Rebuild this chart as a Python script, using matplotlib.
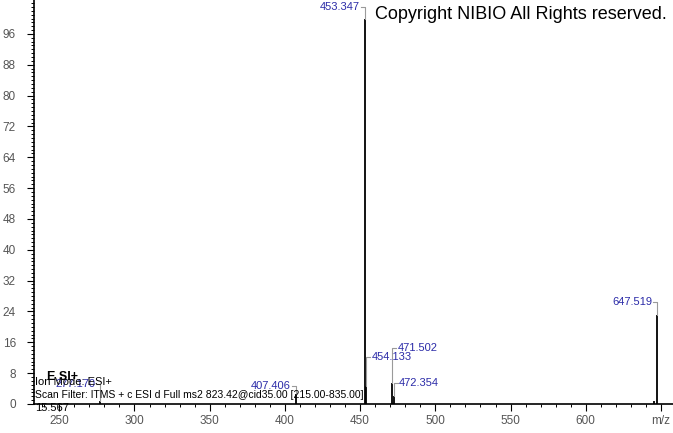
import numpy as np
import matplotlib.pyplot as plt
from matplotlib.ticker import MultipleLocator

plt.rcParams['font.family'] = ['Liberation Sans', 'DejaVu Sans']

# peaks (m/z, relative abundance)
mz = [277.170, 407.406, 453.347, 454.133, 471.502, 472.354, 645.5, 647.519]
inten = [0.8, 2.6, 100.0, 4.7, 5.5, 2.1, 0.8, 23.1]

# labelled peaks: m/z, label height, side of the label
lab_mz = [277.170, 407.406, 453.347, 454.133, 471.502, 472.354, 647.519]
lab_y = [5.2, 4.7, 102.9, 12.2, 14.5, 5.4, 26.5]
lab_side = ['left', 'left', 'left', 'right', 'right', 'right', 'left']

xticks = [250, 300, 350, 400, 450, 500, 550, 600, 650]
xticklabels = ['250', '300', '350', '400', '450', '500', '550', '600', 'm/z']
yticks = list(range(0, 97, 8))

fig = plt.figure(figsize=(6.73, 4.33), dpi=100)
ax = fig.add_axes([34/673, 29/433, 639/673, 404/433])
ax.set_xlim(233.2, 658.0)
ax.set_ylim(0, 104.8)

ax.vlines(mz, 0, inten, color='black', lw=1.3)

# label brackets
for m, y, side in zip(lab_mz, lab_y, lab_side):
    top = inten[mz.index(m)] if m in mz else 0
    dx = 2.5
    if side == 'left':
        ax.plot([m - dx, m, m], [y, y, top], color='#9a9a9a', lw=0.8)
        ax.text(m - dx - 0.8, y, '%.3f' % m, color='#2b2ba8', fontsize=8,
                ha='right', va='center')
    else:
        ax.plot([m, m, m + dx], [top, y, y], color='#9a9a9a', lw=0.8)
        ax.text(m + dx + 0.8, y, '%.3f' % m, color='#2b2ba8', fontsize=8,
                ha='left', va='center')

for s in ['top', 'right']:
    ax.spines[s].set_visible(False)
ax.spines['left'].set_linewidth(1.2)
ax.spines['bottom'].set_linewidth(1.2)

ax.set_xticks(xticks)
ax.set_xticklabels(xticklabels)
ax.set_yticks(yticks)
ax.xaxis.set_minor_locator(MultipleLocator(10))
ax.yaxis.set_minor_locator(MultipleLocator(1))
ax.tick_params(which='major', direction='out', length=5, width=0.8,
               labelsize=8.5, labelcolor='#555555', pad=3)
ax.tick_params(which='minor', direction='out', length=2.5, width=0.7)
ax.tick_params(axis='y', which='major', pad=8)

# header texts
ax.text(0.9906, 0.965, 'Copyright NIBIO All Rights reserved.', transform=ax.transAxes,
        fontsize=13, ha='right', va='center', color='black')
fig.text(47/673, 1 - 377/433, 'E SI+', fontsize=9, fontweight='bold', va='center')
fig.text(35/673, 1 - 382/433, 'Ion Mode: ESI+', fontsize=8, va='center')
fig.text(35/673, 1 - 395/433,
         'Scan Filter: ITMS + c ESI d Full ms2 823.42@cid35.00 [215.00-835.00]',
         fontsize=7.5, va='center')
fig.text(35/673, 1 - 408/433, '15.567', fontsize=8, va='center')

fig.savefig('out.png', dpi=100, facecolor='white')
